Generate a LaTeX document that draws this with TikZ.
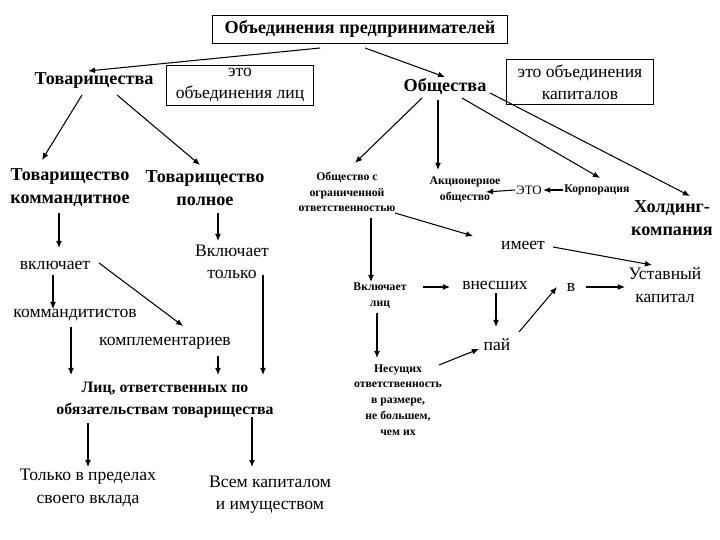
\documentclass[tikz,border=0pt]{standalone}
\usepackage{fontspec}
\setmainfont{LiberationSerif}[Extension=.ttf, UprightFont=*-Regular, BoldFont=*-Bold]
\usetikzlibrary{arrows.meta,calc}

\tikzset{
  big/.style={font=\rmfamily\fontsize{15.5}{19.5}\selectfont\bfseries, align=center, inner sep=1pt},
  txt/.style={font=\rmfamily\fontsize{15}{19}\selectfont, align=center, inner sep=1pt},
  small/.style={font=\rmfamily\fontsize{10}{13.5}\selectfont\bfseries, align=center, inner sep=1pt},
  frame/.style={draw, line width=0.7pt, inner sep=0pt},
  arr/.style={-{Latex[length=6pt,width=5pt]}, line width=0.9pt}
}

\begin{document}
\begin{tikzpicture}[x=0.03cm,y=-0.03cm]
    \useasboundingbox (0,0) rectangle (720,540);

    % top level
    \node[frame, big, minimum width=8.85cm, minimum height=0.84cm] (top) at (360,29) {Объединения предпринимателей};
    \node[big] (tov) at (94,80) {Товарищества};
    \node[frame, txt, minimum width=4.41cm, minimum height=1.2cm] (lic) at (240,85) {это\\объединения лиц};
    \node[big] (obsh) at (445,87) {Общества};
    \node[frame, txt, minimum width=4.41cm, minimum height=1.35cm] (kap) at (580,82) {это объединения\\капиталов};

    % partnerships
    \node[big] (komm) at (70,188) {Товарищество\\коммандитное};
    \node[big] (poln) at (205,188) {Товарищество\\полное};
    \node[txt] (vkl) at (55,265) {включает};
    \node[txt] (tolko) at (232,262) {Включает\\только};
    \node[txt] (kmdt) at (75,315) {коммандитистов};
    \node[txt] (kompl) at (165,343) {комплементариев};
    \node[big, font=\rmfamily\fontsize{13.5}{19.5}\selectfont\bfseries] (lits) at (165,400) {Лиц, ответственных по\\обязательствам товарищества};
    \node[txt] (vklad) at (88,488) {Только в пределах\\своего вклада};
    \node[txt] (imush) at (270,495) {Всем капиталом\\и имуществом};

    % companies
    \node[small] (ooo) at (347,192) {Общество с\\ограниченной\\ответственностью};
    \node[small] (ao) at (465,190) {Акционерное\\общество};
    \node[txt, font=\rmfamily\fontsize{11}{12}\selectfont] (eto) at (529,190) {ЭТО};
    \node[small] (korp) at (597,190) {Корпорация};
    \node[big] (hold) at (672,218) {Холдинг-\\компания};
    \node[txt] (imeet) at (523,245) {имеет};
    \node[txt] (ustav) at (665,285) {Уставный\\капитал};
    \node[small] (vkl2) at (380,296) {Включает\\лиц};
    \node[txt] (vnes) at (495,285) {внесших};
    \node[txt] (vv) at (571,287) {в};
    \node[txt] (pai) at (497,345) {пай};
    \node[small] (nes) at (398,400) {Несущих\\ответственность\\в размере,\\не большем,\\чем их};

    % arrows from the top
    \draw[arr] ($(top)+(-40,19)$) -- ($(tov)+(-6,-9)$);
    \draw[arr] ($(top)+(5,19)$) -- ($(obsh)+(0,-10)$);

    % left branch
    \draw[arr] ($(tov)+(-12,15)$) -- ($(komm)+(-28,-28)$);
    \draw[arr] ($(tov)+(23,15)$) -- ($(poln)+(-5,-23)$);
    \draw[arr] ($(komm)+(-11,25)$) -- ($(vkl)+(4,-17)$);
    \draw[arr] ($(poln)+(13,25)$) -- ($(tolko)+(-14,-21)$);
    \draw[arr] ($(vkl)+(-2,10)$) -- ($(kmdt)+(-22,-6)$);
    \draw[arr] ($(vkl)+(44,-2)$) -- ($(kompl)+(18,-17)$);
    \draw[arr] ($(kmdt)+(-4,12)$) -- ($(lits)+(-94,-25)$);
    \draw[arr] ($(kompl)+(53,13)$) -- ($(lits)+(53,-25)$);
    \draw[arr] ($(tolko)+(31,13)$) -- ($(lits)+(98,-25)$);
    \draw[arr] ($(lits)+(-77,23)$) -- ($(vklad)+(0,-21)$);
    \draw[arr] ($(lits)+(87,17)$) -- ($(imush)+(-18,-28)$);

    % right branch
    \draw[arr] ($(obsh)+(-23,11)$) -- ($(ooo)+(8,-29)$);
    \draw[arr] ($(obsh)+(-7,13)$) -- ($(ao)+(-27,-20)$);
    \draw[arr] ($(obsh)+(17,11)$) -- ($(korp)+(3,-12)$);
    \draw[arr] ($(obsh)+(45,6)$) -- ($(hold)+(18,-22)$);
    \draw[arr] (korp.west) -- (eto.east);
    \draw[arr] (eto.west) -- ($(ao)+(21,2)$);
    \draw[arr] ($(ooo)+(48,21)$) -- ($(imeet)+(-50,-9)$);
    \draw[arr] ($(imeet)+(30,2)$) -- ($(ustav)+(-13,-20)$);
    \draw[arr] ($(ooo)+(24,26)$) -- ($(vkl2)+(-9,-14)$);
    \draw[arr] ($(vkl2)+(43,-9)$) -- ($(vnes)+(-45,2)$);
    \draw[arr] ($(vnes)+(1,8)$) -- ($(pai)+(-1,-18)$);
    \draw[arr] ($(pai)+(22,-13)$) -- ($(vv)+(-14,0)$);
    \draw[arr] ($(vv)+(15,0)$) -- ($(ustav)+(-40,2)$);
    \draw[arr] ($(vkl2)+(-3,17)$) -- ($(nes)+(-21,-42)$);
    \draw[arr] ($(nes)+(41,-35)$) -- ($(pai)+(-18,4)$);
\end{tikzpicture}
\end{document}
